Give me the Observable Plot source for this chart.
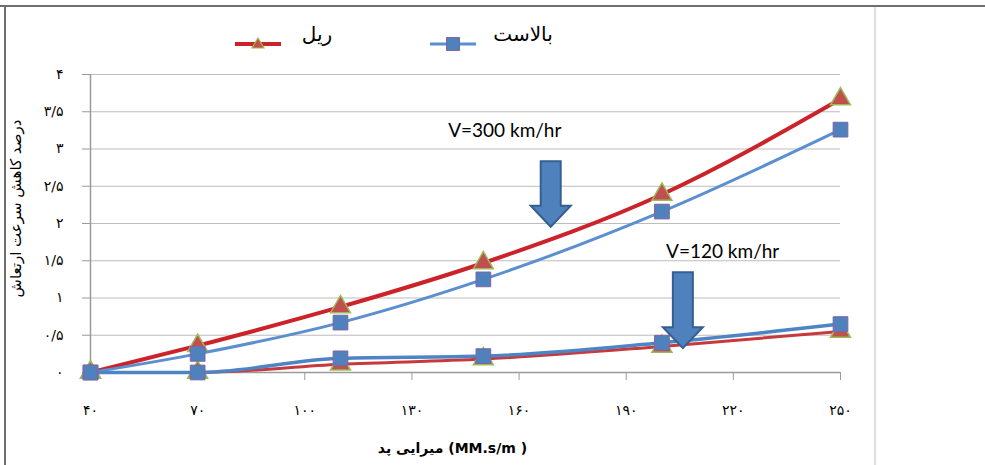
<!DOCTYPE html>
<html><head><meta charset="utf-8">
<script src="https://cdn.jsdelivr.net/npm/d3@7"></script>
<script src="https://cdn.jsdelivr.net/npm/@observablehq/plot@0.6"></script>
<style>
body{margin:0;background:#fff;}
#wrap{position:relative;width:985px;height:465px;overflow:hidden;font-family:"DejaVu Sans",sans-serif;background:#fff;}
.bt{position:absolute;left:0;top:5px;width:985px;height:2px;background:#6e6e6e;}
.bl{position:absolute;left:4px;top:5px;width:2px;height:460px;background:#6e6e6e;}
.br{position:absolute;left:874px;top:7px;width:2px;height:458px;background:#dedede;}
#legend{position:absolute;left:0;top:0;width:985px;height:60px;}
#legend .sw{position:absolute;}
#legend .lt{position:absolute;direction:rtl;text-align:center;font-size:20px;color:#000;}
#chart{position:absolute;left:0;top:60px;}
</style></head>
<body>
<div id="wrap">
  <div id="legend"></div>
  <div id="chart"></div>
  <div class="bt"></div><div class="bl"></div><div class="br"></div>
</div>
<script>
// ---- data ----
const xValues = [40, 70, 110, 150, 200, 250];
const rail300 = [0, 0.36, 0.88, 1.47, 2.39, 3.67];
const ballast300 = [0, 0.25, 0.67, 1.25, 2.16, 3.26];
const rail120 = [0, 0, 0.11, 0.18, 0.35, 0.55];
const ballast120 = [0, 0, 0.19, 0.22, 0.40, 0.65];

const seriesNames = ["ریل", "بالاست"];
const yTicks = [0, 0.5, 1, 1.5, 2, 2.5, 3, 3.5, 4];
const yTickLabels = ["۰", "۰/۵", "۱", "۱/۵", "۲", "۲/۵", "۳", "۳/۵", "۴"];
const xTicks = [40, 70, 100, 130, 160, 190, 220, 250];
const xTickLabels = ["۴۰", "۷۰", "۱۰۰", "۱۳۰", "۱۶۰", "۱۹۰", "۲۲۰", "۲۵۰"];
const yTitle = "درصد کاهش سرعت ارتعاش";
const xTitle = "میرایی پد (MM.s/m )";

const annotTexts = ["V=300 km/hr", "V=120 km/hr"];
const annotX = [156, 217];
const annotY = [3.24, 1.62];
const arrowX = [169, 206];
const arrowTop = [2.83, 1.34];
const arrowTip = [1.95, 0.32];

// ---- styles ----
const RED = "#cc2229", RED_LOW = "#c8393b", BLUE = "#5b8fd0", BLUE_LOW = "#4d84c6";
const TRI_FILL = "#c0504d", TRI_STROKE = "#9bbb59", SQ_FILL = "#4f81bd", SQ_STROKE = "#8064a2";

const toRows = (ys) => xValues.map((x, i) => ({x, y: ys[i]}));
const r300 = toRows(rail300), b300 = toRows(ballast300), r120 = toRows(rail120), b120 = toRows(ballast120);
const annots = annotTexts.map((t, i) => ({t, x: annotX[i], y: annotY[i]}));

const NS = "http://www.w3.org/2000/svg";
function arrowsMark(index, scales) {
  const g = document.createElementNS(NS, "g");
  arrowX.forEach((ax, i) => {
    const cx = scales.x(ax), y0 = scales.y(arrowTop[i]), y1 = scales.y(arrowTip[i]);
    const sw = 10, hw = 20, hh = 21;
    const pts = [[cx - sw, y0], [cx + sw, y0], [cx + sw, y1 - hh], [cx + hw, y1 - hh], [cx, y1], [cx - hw, y1 - hh], [cx - sw, y1 - hh]];
    const p = document.createElementNS(NS, "polygon");
    p.setAttribute("points", pts.map(d => d.join(",")).join(" "));
    p.setAttribute("fill", "#4f81bd");
    p.setAttribute("stroke", "#345f91");
    p.setAttribute("stroke-width", "2");
    p.setAttribute("stroke-linejoin", "miter");
    g.appendChild(p);
  });
  return g;
}

const chart = Plot.plot({
  width: 985,
  height: 405,
  marginTop: 14,
  marginBottom: 93,
  marginLeft: 90,
  marginRight: 145,
  style: {fontFamily: "DejaVu Sans, sans-serif", fontSize: "14px", background: "transparent", overflow: "visible"},
  x: {domain: [40, 250]},
  y: {domain: [0, 4]},
  marks: [
    Plot.ruleY(yTicks.filter(d => d > 0), {stroke: "#bdbdbd", strokeWidth: 1.2}),
    Plot.axisY({ticks: yTicks, tickFormat: d => yTickLabels[yTicks.indexOf(d)], tickSize: 8, tickPadding: 19, stroke: "#9a9a9a", fill: "#000", fontSize: 14, label: null}),
    Plot.axisX({ticks: xTicks, tickFormat: d => xTickLabels[xTicks.indexOf(d)], tickSize: 8, tickPadding: 25, stroke: "#9a9a9a", fill: "#000", fontSize: 14, label: null}),
    Plot.ruleX([40], {stroke: "#9a9a9a", strokeWidth: 1.5}),
    Plot.ruleY([0], {stroke: "#9a9a9a", strokeWidth: 1.5}),
    // rail series (red)
    Plot.line(r300, {x: "x", y: "y", stroke: RED, strokeWidth: 4, curve: "monotone-x"}),
    Plot.line(r120, {x: "x", y: "y", stroke: RED_LOW, strokeWidth: 3, curve: "monotone-x"}),
    Plot.dot(r300, {x: "x", y: "y", symbol: "triangle", r: 7.4, fill: TRI_FILL, stroke: TRI_STROKE, strokeWidth: 1.5}),
    Plot.dot(r120, {x: "x", y: "y", symbol: "triangle", r: 7.4, fill: TRI_FILL, stroke: TRI_STROKE, strokeWidth: 1.5}),
    // ballast series (blue)
    Plot.line(b300, {x: "x", y: "y", stroke: BLUE, strokeWidth: 3, curve: "monotone-x"}),
    Plot.line(b120, {x: "x", y: "y", stroke: BLUE_LOW, strokeWidth: 3.5, curve: "monotone-x"}),
    Plot.dot(b300, {x: "x", y: "y", symbol: "square", r: 8.3, fill: SQ_FILL, stroke: SQ_STROKE, strokeWidth: 1}),
    Plot.dot(b120, {x: "x", y: "y", symbol: "square", r: 8.3, fill: SQ_FILL, stroke: SQ_STROKE, strokeWidth: 1}),
    // annotations
    arrowsMark,
    Plot.text(annots, {x: "x", y: "y", text: "t", fontSize: 19, fill: "#000", fontFamily: "Lato, sans-serif"}),
    // axis titles
    Plot.text([yTitle], {frameAnchor: "left", textAnchor: "middle", rotate: -90, dx: -74, dy: -15, fontSize: 15, fill: "#000"}),
    Plot.text([xTitle], {frameAnchor: "bottom", dx: -13, dy: 80, fontSize: 14, fontWeight: "bold", fill: "#000"})
  ]
});
document.getElementById("chart").appendChild(chart);

// ---- legend (HTML above the chart) ----
const legend = document.getElementById("legend");
function swatch(left, color, lw, shape) {
  const s = document.createElementNS(NS, "svg");
  s.setAttribute("width", 46); s.setAttribute("height", 20);
  s.setAttribute("class", "sw");
  s.style.left = left + "px"; s.style.top = "34px";
  const l = document.createElementNS(NS, "line");
  l.setAttribute("x1", 0); l.setAttribute("x2", 46); l.setAttribute("y1", 10); l.setAttribute("y2", 10);
  l.setAttribute("stroke", color); l.setAttribute("stroke-width", lw);
  s.appendChild(l);
  const m = document.createElementNS(NS, "path");
  if (shape === "triangle") {
    m.setAttribute("d", "M23,4 L29,14 L17,14 Z");
    m.setAttribute("fill", TRI_FILL); m.setAttribute("stroke", TRI_STROKE); m.setAttribute("stroke-width", 1.2);
  } else {
    m.setAttribute("d", "M16.5,3.5 h13 v13 h-13 Z");
    m.setAttribute("fill", SQ_FILL); m.setAttribute("stroke", SQ_STROKE); m.setAttribute("stroke-width", 1);
  }
  s.appendChild(m);
  legend.appendChild(s);
}
function label(text, center, top) {
  const d = document.createElement("div");
  d.className = "lt";
  d.textContent = text;
  d.style.left = (center - 50) + "px"; d.style.width = "100px"; d.style.top = top + "px";
  legend.appendChild(d);
}
swatch(235, RED, 4, "triangle");
label(seriesNames[0], 317, 22);
swatch(430, BLUE, 3, "square");
label(seriesNames[1], 523, 22);
</script>
</body></html>
